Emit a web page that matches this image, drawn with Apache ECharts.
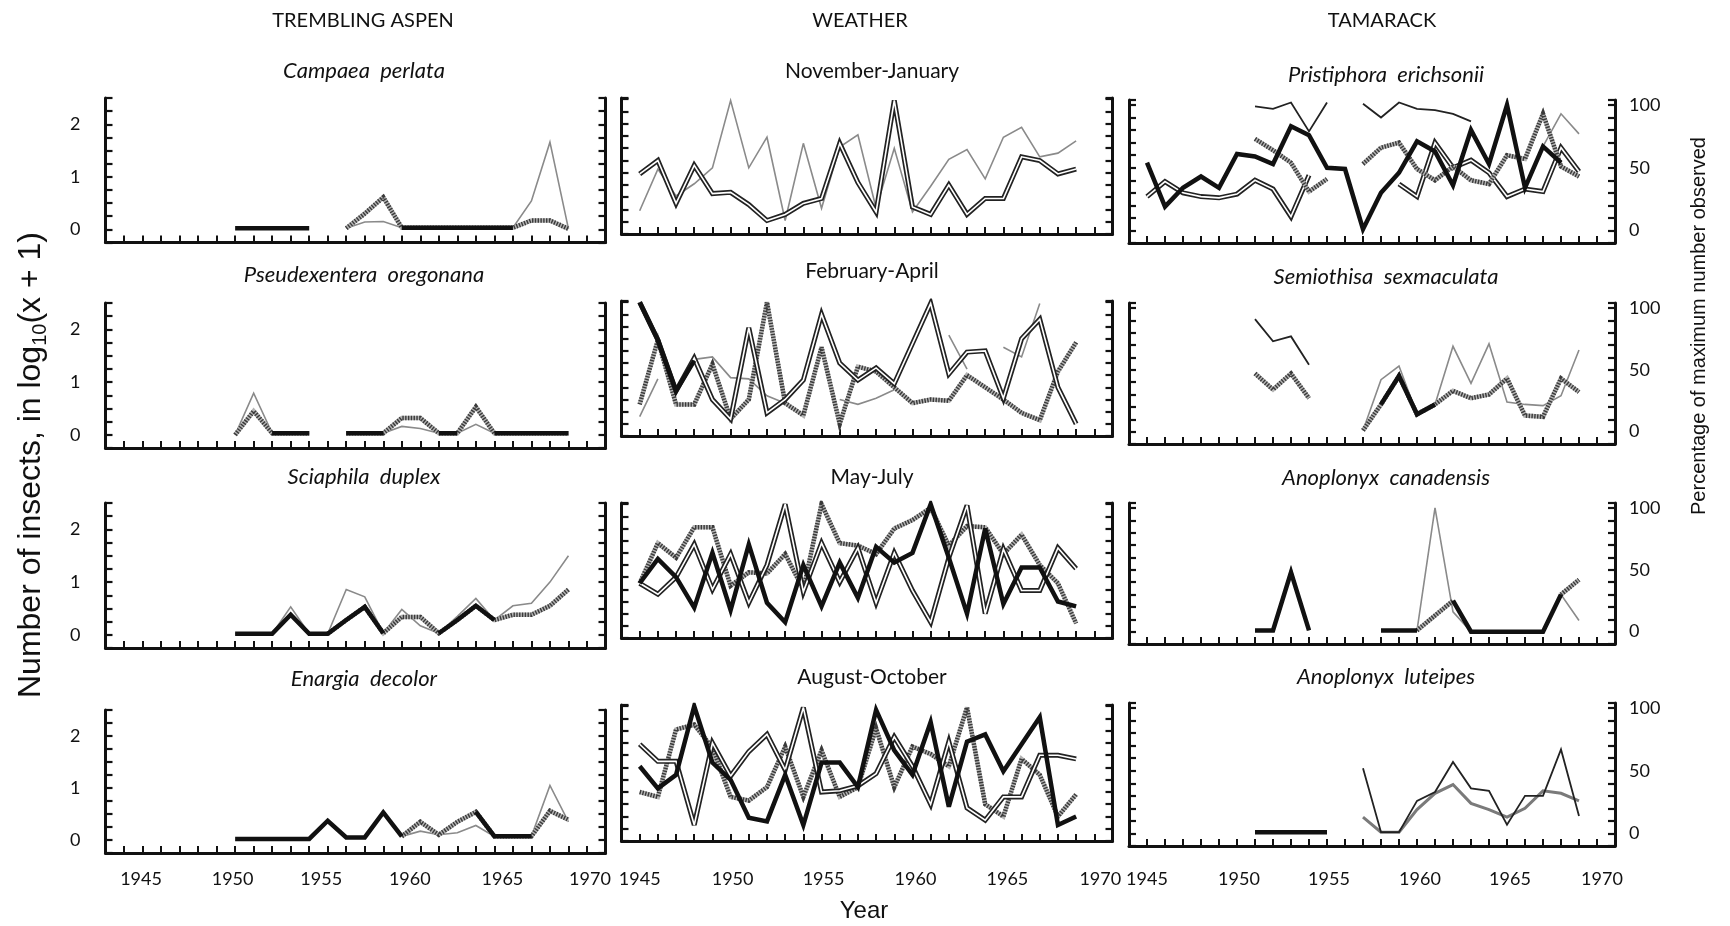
<!DOCTYPE html>
<html>
<head>
<meta charset="utf-8">
<script src="https://cdn.jsdelivr.net/npm/echarts@6/dist/echarts.min.js"></script>
<style>
  html, body { margin: 0; padding: 0; background: #fff; }
  #chart { width: 1730px; height: 926px; }
</style>
</head>
<body>
<div id="chart"></div>
<script>
const _ = null;
const years = [1945, 1946, 1947, 1948, 1949, 1950, 1951, 1952, 1953, 1954, 1955, 1956, 1957,
  1958, 1959, 1960, 1961, 1962, 1963, 1964, 1965, 1966, 1967, 1968, 1969];

// trembling aspen, log10(x + 1)
const campaeaBlack = [_,_,_,_,_,_,0.02,0.02,0.02,0.02,0.02,_,_,_,_,0.03,0.03,0.03,0.03,0.03,0.03,0.03,_,_,_];
const campaeaHatch = [_,_,_,_,_,_,_,_,_,_,_,_,0.02,0.3,0.61,0.03,0.03,0.03,0.03,0.03,0.03,0.03,0.17,0.17,0.01];
const campaeaThin  = [_,_,_,_,_,_,_,_,_,_,_,_,0.02,0.14,0.15,0.03,0.03,0.03,0.03,0.03,0.03,0.03,0.54,1.66,0.01];

const pseudBlack = [_,_,_,_,_,_,_,_,0.03,0.03,0.03,_,0.03,0.03,0.03,_,_,0.03,0.03,_,0.03,0.03,0.03,0.03,0.03];
const pseudHatch = [_,_,_,_,_,_,0,0.45,0.03,0.03,0.03,_,0.03,0.03,0.03,0.32,0.32,0.03,0.03,0.53,0.03,0.03,0.03,0.03,0.03];
const pseudThin  = [_,_,_,_,_,_,0,0.79,0.03,0.03,0.03,_,0.03,0.03,0.03,0.16,0.12,0.03,0.03,0.2,0.03,_,_,_,_];

const sciaBlack = [_,_,_,_,_,_,0.02,0.02,0.02,0.38,0.02,0.02,0.28,0.53,0.03,_,_,0.03,0.28,0.55,0.28,_,_,_,_];
const sciaHatch = [_,_,_,_,_,_,_,_,_,_,_,0.02,0.28,0.53,0.03,0.34,0.34,0.03,0.28,0.55,0.28,0.38,0.38,0.55,0.86];
const sciaThin  = [_,_,_,_,_,_,0.02,0.02,0.02,0.53,0.02,0.02,0.86,0.72,0.03,0.48,0.17,0.03,0.35,0.69,0.28,0.55,0.6,1.0,1.5];

const enarBlack = [_,_,_,_,_,_,0.02,0.02,0.02,0.02,0.02,0.37,0.05,0.05,0.53,0.07,_,_,_,0.54,0.07,0.07,0.07,_,_];
const enarHatch = [_,_,_,_,_,_,_,_,_,_,_,_,_,_,_,0.07,0.35,0.1,0.35,0.54,0.07,0.07,0.07,0.56,0.39];
const enarThin  = [_,_,_,_,_,_,_,_,_,_,_,_,_,_,_,0.07,0.17,0.1,0.14,0.28,0.07,0.07,0.07,1.05,0.35];

// weather, percentage of maximum
const novJanRail = [39,50,15,46,23,24,14,1,6,15,19,64,32,8,99,12,6,30,6,19,19,53,50,39,43];
const novJanThin = [9,43,21,31,44,99,44,69,1,64,11,61,71,11,60,8,29,51,59,35,69,77,53,56,66];

const febAprRail  = [100,69,27,54,20,4,79,9,20,36,90,50,36,46,33,66,99,41,59,60,21,70,86,30,0];
const febAprHatch = [16,69,16,16,49,4,20,100,17,7,63,0,47,43,30,17,20,19,40,30,20,9,3,43,67];
const febAprThin  = [6,37,_,53,55,38,37,23,17,_,_,20,16,21,28,_,_,73,45,_,63,55,99,_,_];
const febAprBlack = [100,69,27,52,_,_,_,_,_,_,_,_,_,_,_,_,_,_,_,_,_,_,_,_,_];

const mayJulBlack = [35,55,40,15,60,13,67,19,3,50,16,52,23,65,52,60,100,56,10,80,18,48,48,20,16];
const mayJulRail  = [35,26,40,67,30,59,19,50,100,28,68,36,64,19,60,29,3,56,99,10,63,29,29,64,47];
const mayJulHatch = [35,68,56,81,81,33,44,43,59,30,100,68,66,59,80,87,97,66,82,81,59,75,50,35,2];

const augOctBlack = [51,33,44,100,54,40,9,6,44,3,54,54,34,97,64,44,87,18,71,77,47,69,91,3,10];
const augOctRail  = [69,55,55,3,70,43,63,77,48,99,30,31,35,45,75,51,20,71,17,7,26,26,60,60,57];
const augOctHatch = [30,26,81,85,66,26,23,34,67,26,64,26,34,82,34,67,61,51,99,20,10,57,44,10,28];

// tamarack, percentage of maximum number observed
const pristBlack = [54,19,34,43,34,61,59,53,83,76,50,49,1,30,46,71,63,36,80,53,100,34,67,54,_];
const pristThin  = [_,_,_,_,_,_,99,97,102,79,102,_,101,90,102,97,96,93,87,_,_,_,_,_,_];
const pristRail  = [27,39,30,27,26,29,40,33,11,44,_,_,_,_,37,27,70,50,56,46,27,33,31,66,47];
const pristHatch = [_,_,_,_,_,_,73,64,54,31,41,_,53,66,70,49,40,51,40,37,60,57,93,51,43];
const pristDash  = [_,_,_,_,_,_,_,_,_,_,_,_,_,_,_,_,_,_,_,_,_,_,67,93,77];

const semioThin  = [_,_,_,_,_,_,91,73,77,54,_,_,_,_,_,_,_,_,_,_,_,_,_,_,_];
const semioHatch = [_,_,_,_,_,_,47,34,47,27,_,_,1,22,45,14,22,33,27,30,43,13,12,43,32];
const semioGrey  = [_,_,_,_,_,_,_,_,_,_,_,_,1,42,53,14,22,69,39,71,24,22,21,29,66];
const semioBlack = [_,_,_,_,_,_,_,_,_,_,_,_,_,22,45,14,22,_,_,_,_,_,_,_,_];

const canadBlack = [_,_,_,_,_,_,1,1,48,1,_,_,_,1,1,1,_,25,0,0,0,0,0,30,_];
const canadThin  = [_,_,_,_,_,_,_,1,51,1,_,_,_,_,_,1,100,16,0,_,_,_,0,30,9];
const canadHatch = [_,_,_,_,_,_,_,_,_,_,_,_,_,_,_,1,13,25,_,_,_,_,_,30,42];

const luteiBlack = [_,_,_,_,_,_,1,1,1,1,1,_,_,_,_,_,_,_,_,_,_,_,_,_,_];
const luteiThin  = [_,_,_,_,_,_,_,_,_,_,_,_,52,1,1,26,33,57,36,34,7,30,30,67,14];
const luteiGrey  = [_,_,_,_,_,_,_,_,_,_,_,_,13,1,1,19,32,39,24,19,13,20,34,32,26];

const yearTicks = [1945, 1950, 1955, 1960, 1965, 1970];
const leftTicks = ['0', '1', '2'];
const rightTicks = ['0', '50', '100'];

const panels = [
  { col: 0, row: 0, title: 'Campaea  perlata', lines: [[campaeaThin, 'thin'], [campaeaHatch, 'hatch'], [campaeaBlack, 'black']] },
  { col: 0, row: 1, title: 'Pseudexentera  oregonana', lines: [[pseudThin, 'thin'], [pseudHatch, 'hatch'], [pseudBlack, 'black']] },
  { col: 0, row: 2, title: 'Sciaphila  duplex', lines: [[sciaThin, 'thin'], [sciaHatch, 'hatch'], [sciaBlack, 'black']] },
  { col: 0, row: 3, title: 'Enargia  decolor', lines: [[enarThin, 'thin'], [enarHatch, 'hatch'], [enarBlack, 'black']] },
  { col: 1, row: 0, title: 'November-January', lines: [[novJanThin, 'thin'], [novJanRail, 'rail']] },
  { col: 1, row: 1, title: 'February-April', lines: [[febAprThin, 'thin'], [febAprHatch, 'hatch'], [febAprRail, 'rail'], [febAprBlack, 'black']] },
  { col: 1, row: 2, title: 'May-July', lines: [[mayJulHatch, 'hatch'], [mayJulRail, 'rail'], [mayJulBlack, 'black']] },
  { col: 1, row: 3, title: 'August-October', lines: [[augOctHatch, 'hatch'], [augOctRail, 'rail'], [augOctBlack, 'black']] },
  { col: 2, row: 0, title: 'Pristiphora  erichsonii', lines: [[pristDash, 'thin'], [pristRail, 'rail'], [pristHatch, 'hatch'], [pristThin, 'thinBlack'], [pristBlack, 'black']] },
  { col: 2, row: 1, title: 'Semiothisa  sexmaculata', lines: [[semioGrey, 'thin'], [semioHatch, 'hatch'], [semioThin, 'thinBlack'], [semioBlack, 'black']] },
  { col: 2, row: 2, title: 'Anoplonyx  canadensis', lines: [[canadThin, 'thin'], [canadHatch, 'hatch'], [canadBlack, 'black']] },
  { col: 2, row: 3, title: 'Anoplonyx  luteipes', lines: [[luteiGrey, 'grey'], [luteiThin, 'thinBlack'], [luteiBlack, 'black']] }
];

// the printed year labels sit a little right of their ticks (most in the left column)
const COLS = [
  { left: 105.5, width: 500, rows: [[98, 144.5], [303, 145], [503, 145], [710, 143]],
    min: -0.25, max: 2.5, interval: 0.25, yearMargin: 17, yearShift: [17, 16, 12, 8, 8, 3],
    titleX: 364, titleY: [71, 275, 477, 679], titleStyle: 'italic', titleSize: 22 },
  { left: 621.5, width: 491, rows: [[98, 136], [301, 135], [503, 135], [705, 136]],
    min: -10, max: 101, interval: 10, yearMargin: 29, yearShift: [0, 2, 2, 3, 4, 6],
    titleX: 872, titleY: [71, 271, 477, 677], titleStyle: 'normal', titleSize: 21 },
  { left: 1129, width: 486, rows: [[100, 143], [303, 141], [503, 141], [703, 143]],
    min: -10, max: 104, interval: 10, yearMargin: 24, yearShift: [0, 2, 2, 3, 3, 5],
    titleX: 1386, titleY: [75, 277, 478, 677], titleStyle: 'italic', titleSize: 22 }
];

const STYLES = {
  black: [{ color: '#111', width: 4.5 }],
  rail: [{ color: '#222', width: 5 }, { color: '#fff', width: 1.6 }],
  hatch: [{ color: '#b4b4b4', width: 4.5 }, { color: '#3a3a3a', width: 4.5, type: [1.4, 1.4] }],
  thin: [{ color: '#8a8a8a', width: 1.6 }],
  thinBlack: [{ color: '#222', width: 1.8 }],
  grey: [{ color: '#7a7a7a', width: 3 }]
};

const grids = [], xAxes = [], yAxes = [], series = [], texts = [];
const tickFont = { fontFamily: 'Lato', fontSize: 18, color: '#111' };

panels.forEach((p, i) => {
  const c = COLS[p.col];
  const [top, height] = c.rows[p.row];
  grids.push({ left: c.left, top: top, width: c.width, height: height });

  const rich = {};
  yearTicks.forEach((y, k) => {
    rich['y' + y] = { fontFamily: 'Lato', fontSize: 18, color: '#111', padding: [0, 0, 0, 2 * c.yearShift[k]] };
  });

  xAxes.push({
    gridIndex: i, type: 'value', min: 1944, max: 1971, interval: 1,
    axisLine: { show: true, onZero: false, lineStyle: { color: '#111', width: 3 } },
    axisTick: { show: true, inside: true, length: 7, lineStyle: { color: '#111', width: 2 } },
    axisLabel: Object.assign({
      show: p.row === 3, margin: c.yearMargin, rich: rich,
      formatter: v => yearTicks.includes(v) ? '{y' + v + '|' + v + '}' : ''
    }, tickFont),
    splitLine: { show: false }
  });

  const yBase = {
    gridIndex: i, type: 'value', min: c.min, max: c.max, interval: c.interval,
    axisLine: { show: true, onZero: false, lineStyle: { color: '#111', width: 3 } },
    axisTick: { show: true, inside: true, length: 7, lineStyle: { color: '#111', width: 2.2 } },
    splitLine: { show: false }
  };
  yAxes.push(Object.assign({}, yBase, {
    position: 'left',
    axisLabel: Object.assign({
      show: p.col === 0, margin: 25,
      formatter: v => leftTicks.includes(String(Math.round(v * 100) / 100)) ? String(Math.round(v)) : ''
    }, tickFont)
  }));
  yAxes.push(Object.assign({}, yBase, {
    position: 'right',
    axisLabel: Object.assign({
      show: p.col === 2, margin: 14,
      formatter: v => rightTicks.includes(String(v)) ? String(v) : ''
    }, tickFont)
  }));

  p.lines.forEach(([vals, style]) => {
    STYLES[style].forEach(ls => {
      series.push({
        type: 'line', xAxisIndex: i, yAxisIndex: i * 2,
        data: years.map((y, k) => [y, vals[k]]),
        showSymbol: false, symbol: 'none', silent: true, animation: false,
        lineStyle: Object.assign({ cap: 'butt', join: 'miter', miterLimit: 4 }, ls)
      });
    });
  });

  texts.push({
    type: 'text', x: c.titleX, y: c.titleY[p.row], silent: true,
    style: {
      text: p.title, fill: '#111', fontFamily: 'Lato', fontSize: c.titleSize,
      fontStyle: c.titleStyle,
      align: 'center', verticalAlign: 'middle', textAlign: 'center', textVerticalAlign: 'middle'
    }
  });
});

const headings = [['TREMBLING ASPEN', 363], ['WEATHER', 860], ['TAMARACK', 1382]];
headings.forEach(([t, x]) => texts.push({
  type: 'text', x: x, y: 21, silent: true,
  style: { text: t, fill: '#111', fontFamily: 'Lato', fontSize: 20,
    align: 'center', verticalAlign: 'middle', textAlign: 'center', textVerticalAlign: 'middle' }
}));

texts.push({
  type: 'text', x: 864, y: 911, silent: true,
  style: { text: 'Year', fill: '#111', fontFamily: 'Liberation Sans', fontSize: 24,
    align: 'center', verticalAlign: 'middle', textAlign: 'center', textVerticalAlign: 'middle' }
});
texts.push({
  type: 'text', x: 31, y: 465, rotation: Math.PI / 2, silent: true,
  style: {
    text: 'Number of insects, in log{s|10}(x + 1)', fill: '#111',
    fontFamily: 'Liberation Sans', fontSize: 32, lineHeight: 38,
    rich: { s: { fontFamily: 'Liberation Sans', fontSize: 20, lineHeight: 20, verticalAlign: 'bottom', fill: '#111' } },
    align: 'center', verticalAlign: 'middle', textAlign: 'center', textVerticalAlign: 'middle'
  }
});
texts.push({
  type: 'text', x: 1699, y: 326, rotation: Math.PI / 2, silent: true,
  style: { text: 'Percentage of maximum number observed', fill: '#111', fontFamily: 'Liberation Sans', fontSize: 20,
    align: 'center', verticalAlign: 'middle', textAlign: 'center', textVerticalAlign: 'middle' }
});

const chart = echarts.init(document.getElementById('chart'));
chart.setOption({
  backgroundColor: '#fff',
  animation: false,
  grid: grids,
  xAxis: xAxes,
  yAxis: yAxes,
  series: series,
  graphic: texts
});
</script>
</body>
</html>
